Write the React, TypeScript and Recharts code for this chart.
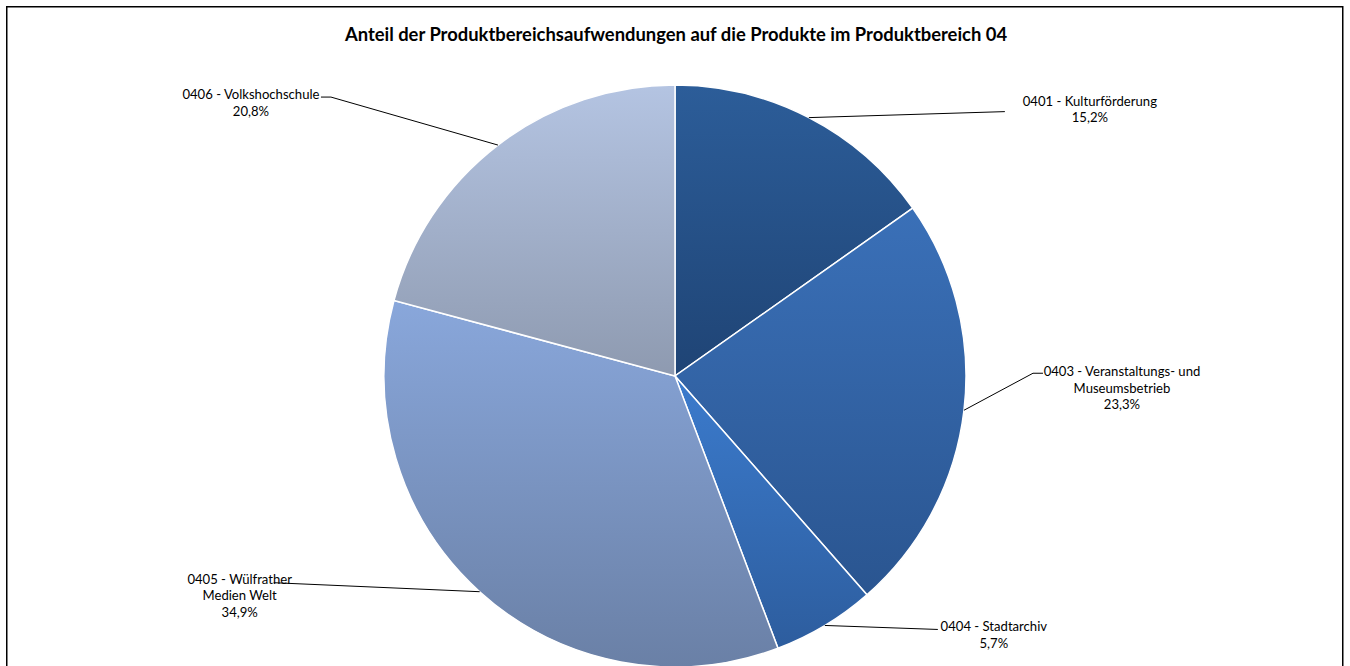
import React from "react";
import { PieChart, Pie, Cell } from "recharts";

const products = [
  "0401 - Kulturförderung",
  "0403 - Veranstaltungs- und Museumsbetrieb",
  "0404 - Stadtarchiv",
  "0405 - Wülfrather Medien Welt",
  "0406 - Volkshochschule",
];
const shares = [15.2, 23.3, 5.7, 34.9, 20.8];

// label text broken into lines as in the original
const labelLines = [
  ["0401 - Kulturförderung"],
  ["0403 - Veranstaltungs- und", "Museumsbetrieb"],
  ["0404 - Stadtarchiv"],
  ["0405 - Wülfrather", "Medien Welt"],
  ["0406 - Volkshochschule"],
];

const data = products.map((name, i) => ({ name, value: shares[i] }));

// gradient stops per slice: top, bottom
const gradients = [
  ["#2c5d99", "#1f4475"],
  ["#3a70b8", "#2a5590"],
  ["#3b7bcd", "#2d5d9e"],
  ["#89a7db", "#6a80a6"],
  ["#b4c4e2", "#8e9ab0"],
];

// label placement relative to the slice's outer mid point
const labelLayout = [
  { leader: [[196, -6]], tx: 281, ty: -17 },
  { leader: [[69, -37], [79, -37]], tx: 158, ty: -39 },
  { leader: [[113, 4]], tx: 169, ty: 1 },
  { leader: [[-206, -9]], tx: -240, ty: -13 },
  { leader: [[-167, -48], [-177, -48]], tx: -247, ty: -51 },
];

const RAD = Math.PI / 180;
const FONT = "Lato, 'Open Sans', sans-serif";
const total = shares.reduce((a, b) => a + b, 0);

function renderLabel(props: any) {
  const { cx, cy, midAngle, outerRadius, index, value } = props;
  const ax = cx + outerRadius * Math.cos(-midAngle * RAD);
  const ay = cy + outerRadius * Math.sin(-midAngle * RAD);
  const lay = labelLayout[index];
  const pts = [[ax, ay], ...lay.leader.map(([dx, dy]) => [ax + dx, ay + dy])];
  const pct = ((value / total) * 100).toFixed(1).replace(".", ",") + "%";
  const lines = [...labelLines[index], pct];
  return (
    <g key={`lbl-${index}`}>
      <polyline
        points={pts.map((p) => p.join(",")).join(" ")}
        fill="none"
        stroke="#000"
        strokeWidth={1}
      />
      {lines.map((t, k) => (
        <text
          key={k}
          x={ax + lay.tx}
          y={ay + lay.ty + k * 16.5}
          textAnchor="middle"
          dominantBaseline="central"
          fontFamily={FONT}
          fontSize={13.1}
          fill="#000"
        >
          {t}
        </text>
      ))}
    </g>
  );
}

export default function App() {
  return (
    <div style={{ position: "absolute", left: 0, top: 0, width: 1350, height: 666, background: "#fff" }}>
      <PieChart width={1350} height={666} margin={{ top: 0, right: 0, bottom: 0, left: 0 }}>
        <defs>
          {gradients.map(([a, b], i) => (
            <linearGradient key={i} id={`g${i}`} x1="0" y1="0" x2="0" y2="1">
              <stop offset="0%" stopColor={a} />
              <stop offset="100%" stopColor={b} />
            </linearGradient>
          ))}
        </defs>
        <rect x={6.75} y={6.75} width={1336} height={700} fill="none" stroke="#000" strokeWidth={1.5} />
        <text
          x={676}
          y={34}
          textAnchor="middle"
          dominantBaseline="central"
          fontFamily={FONT}
          fontWeight="bold"
          fontSize={18.4}
          fill="#000"
        >
          Anteil der Produktbereichsaufwendungen auf die Produkte im Produktbereich 04
        </text>
        <Pie
          data={data}
          dataKey="value"
          nameKey="name"
          cx={675}
          cy={376}
          outerRadius={291}
          startAngle={90}
          endAngle={-270}
          stroke="#fff"
          strokeWidth={1.5}
          label={renderLabel}
          labelLine={false}
          isAnimationActive={false}
        >
          {data.map((_, i) => (
            <Cell key={i} fill={`url(#g${i})`} />
          ))}
        </Pie>
      </PieChart>
    </div>
  );
}
